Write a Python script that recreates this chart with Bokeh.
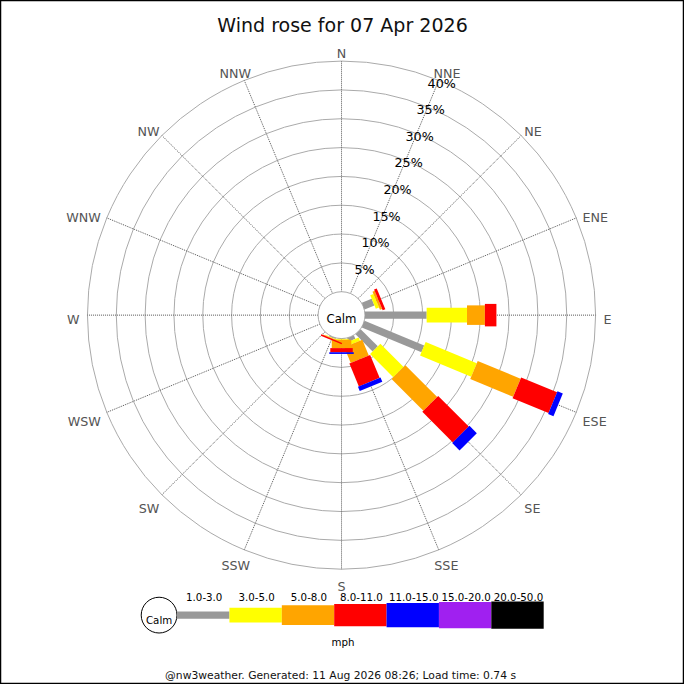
import math
from bokeh.plotting import figure
from bokeh.models import Range1d
from bokeh.core.properties import value
from bokeh.embed import file_html
from bokeh.resources import INLINE

# ---------------- data ----------------
title_text = "Wind rose for 07 Apr 2026"
directions = ["N", "NNE", "NE", "ENE", "E", "ESE", "SE", "SSE",
              "S", "SSW", "SW", "WSW", "W", "WNW", "NW", "NNW"]
speed_bands = ["1.0-3.0", "3.0-5.0", "5.0-8.0", "8.0-11.0",
               "11.0-15.0", "15.0-20.0", "20.0-50.0"]
band_colors = ["#999999", "#ffff00", "#ffa500", "#ff0000",
               "#0000ff", "#a020f0", "#000000"]
# percentage of time per direction, per speed band (mph)
pct_1_3 = [0, 0, 0, 1.85, 10.7, 11.2, 4.2, 0.65, 0.05, 0.15, 0, 0, 0, 0, 0, 0]
pct_3_5 = [0, 0, 0, 0.6, 7.0, 9.6, 5.7, 0.6, 0.15, 0.1, 0, 0, 0, 0, 0, 0]
pct_5_8 = [0, 0, 0, 0.4, 3.1, 8.05, 7.8, 2.95, 1.45, 0.1, 0, 0, 0, 0, 0, 0]
pct_8_11 = [0, 0, 0, 0.5, 2.0, 6.75, 7.5, 4.3, 0.72, 0.25, 0, 0, 0, 0, 0, 0]
pct_11_15 = [0, 0, 0, 0, 0, 1.0, 1.8, 0.8, 0.29, 0, 0, 0, 0, 0, 0, 0]
pct_15_20 = [0] * 16
pct_20_50 = [0] * 16
band_values = [pct_1_3, pct_3_5, pct_5_8, pct_8_11, pct_11_15, pct_15_20, pct_20_50]
ring_pcts = [5, 10, 15, 20, 25, 30, 35, 40]
ring_labels = ["5%", "10%", "15%", "20%", "25%", "30%", "35%", "40%"]
calm_label = "Calm"
unit_label = "mph"
footer_text = "@nw3weather. Generated: 11 Aug 2026 08:26; Load time: 0.74 s"

# ---------------- geometry / style ----------------
SIZE = 684
S = SIZE / 700.0             # reference pixel -> screen pixel
K = 5.9                      # reference pixels per percent
CX, CY = 349.0, 322.0        # centre in reference pixels
CALM = 24.0 / K              # calm circle radius (data units)
FONT = value("DejaVu Sans")
band_widths = [7.5, 15, 20, 23, 25, 27, 28]


def px(X):
    return (X - CX) / K


def py(Y):
    return (CY - Y) / K


def fsz(v):
    return "%.2fpx" % (v * S)


p = figure(width=SIZE, height=SIZE, output_backend="svg", toolbar_location=None,
           x_range=Range1d(px(0), px(700)), y_range=Range1d(py(700), py(0)),
           x_axis_location=None, y_axis_location=None, min_border=0,
           background_fill_color="white", border_fill_color="white",
           outline_line_color="black", outline_line_width=1.5)
p.grid.visible = False

bearings = [i * 360.0 / len(directions) for i in range(len(directions))]
sin_b = [math.sin(math.radians(b)) for b in bearings]
cos_b = [math.cos(math.radians(b)) for b in bearings]
R_OUT = CALM + ring_pcts[-1]

# rings
p.circle(x=[0] * len(ring_pcts), y=[0] * len(ring_pcts),
         radius=[CALM + r for r in ring_pcts],
         fill_color=None, line_color="#aaaaaa", line_width=1)

# spokes
p.segment(x0=[CALM * s for s in sin_b], y0=[CALM * c for c in cos_b],
          x1=[R_OUT * s for s in sin_b], y1=[R_OUT * c for c in cos_b],
          line_color="#555555", line_width=1, line_dash="1 1")

# calm circle
p.circle(x=[0], y=[0], radius=[CALM], fill_color="white",
         line_color="#aaaaaa", line_width=1)

# bars
cum = [0.0] * len(directions)
for vals, col, w in zip(band_values, band_colors, band_widths):
    x0, y0, x1, y1 = [], [], [], []
    for i, v in enumerate(vals):
        if v > 0:
            r0 = CALM + cum[i]
            r1 = CALM + cum[i] + v
            x0.append(r0 * sin_b[i]); y0.append(r0 * cos_b[i])
            x1.append(r1 * sin_b[i]); y1.append(r1 * cos_b[i])
        cum[i] += v
    if x0:
        p.segment(x0=x0, y0=y0, x1=x1, y1=y1, line_color=col,
                  line_width=w * S, line_cap="butt")

# compass labels
char_w = {"N": 0.748, "E": 0.632, "S": 0.635, "W": 0.989}
fs = 13.0
cap = 0.729 * fs
RL = 268.0
lx, ly = [], []
for name, s, c in zip(directions, sin_b, cos_b):
    w = sum(char_w[ch] for ch in name) * fs
    ax = CX + RL * s
    ay = CY - RL * c
    cxp = ax + 0.5 * w * s
    cyp = ay - 0.5 * cap * c
    lx.append(px(cxp))
    ly.append(py(cyp + cap / 2))
p.text(x=lx, y=ly, text=directions, text_font=FONT, text_font_size=fsz(13),
       text_color="#555555", text_align="center", text_baseline="alphabetic")

# percentage labels along NNE spoke
s1, c1 = sin_b[1], cos_b[1]
rx = [px(CX + (CALM + r) * K * s1 + 3) for r in ring_pcts]
ry = [py(CY - (CALM + r) * K * c1 - 2 + 4.7) for r in ring_pcts]
p.text(x=rx, y=ry, text=ring_labels, text_font=FONT, text_font_size=fsz(13),
       text_color="black", text_align="center", text_baseline="alphabetic")

# calm text
p.text(x=[0], y=[py(325.7)], text=[calm_label], text_font=FONT,
       text_font_size=fsz(12), text_color="black", text_align="center",
       text_baseline="alphabetic")

# title
p.text(x=[px(350)], y=[py(24.7)], text=[title_text], text_font=FONT,
       text_font_size=fsz(19.5), text_color="#111111", text_align="center",
       text_baseline="alphabetic")

# legend
LEG_Y = 629.0
LEG_X0 = 180.7
LEG_W = 53.6
p.circle(x=[px(162.3)], y=[py(LEG_Y)], radius=[18.3 / K], fill_color="white",
         line_color="black", line_width=1)
p.text(x=[px(162.3)], y=[py(634)], text=[calm_label], text_font=FONT,
       text_font_size=fsz(10.5), text_color="black", text_align="center",
       text_baseline="alphabetic")
for i, (lab, col, w) in enumerate(zip(speed_bands, band_colors, band_widths)):
    xa = LEG_X0 + i * LEG_W
    xb = xa + LEG_W
    p.segment(x0=[px(xa)], y0=[py(LEG_Y)], x1=[px(xb)], y1=[py(LEG_Y)],
              line_color=col, line_width=w * S, line_cap="butt")
    p.text(x=[px((xa + xb) / 2 + 1)], y=[py(610.7)], text=[lab], text_font=FONT,
           text_font_size=fsz(10.5), text_color="black", text_align="center",
           text_baseline="alphabetic")
p.text(x=[px(350.5)], y=[py(656)], text=[unit_label], text_font=FONT,
       text_font_size=fsz(10.5), text_color="black", text_align="center",
       text_baseline="alphabetic")

# footer
p.text(x=[px(348)], y=[py(690.5)], text=[footer_text], text_font=FONT,
       text_font_size=fsz(11), text_color="#111111", text_align="center",
       text_baseline="alphabetic")

open("out.html", "w").write(file_html(p, INLINE))
